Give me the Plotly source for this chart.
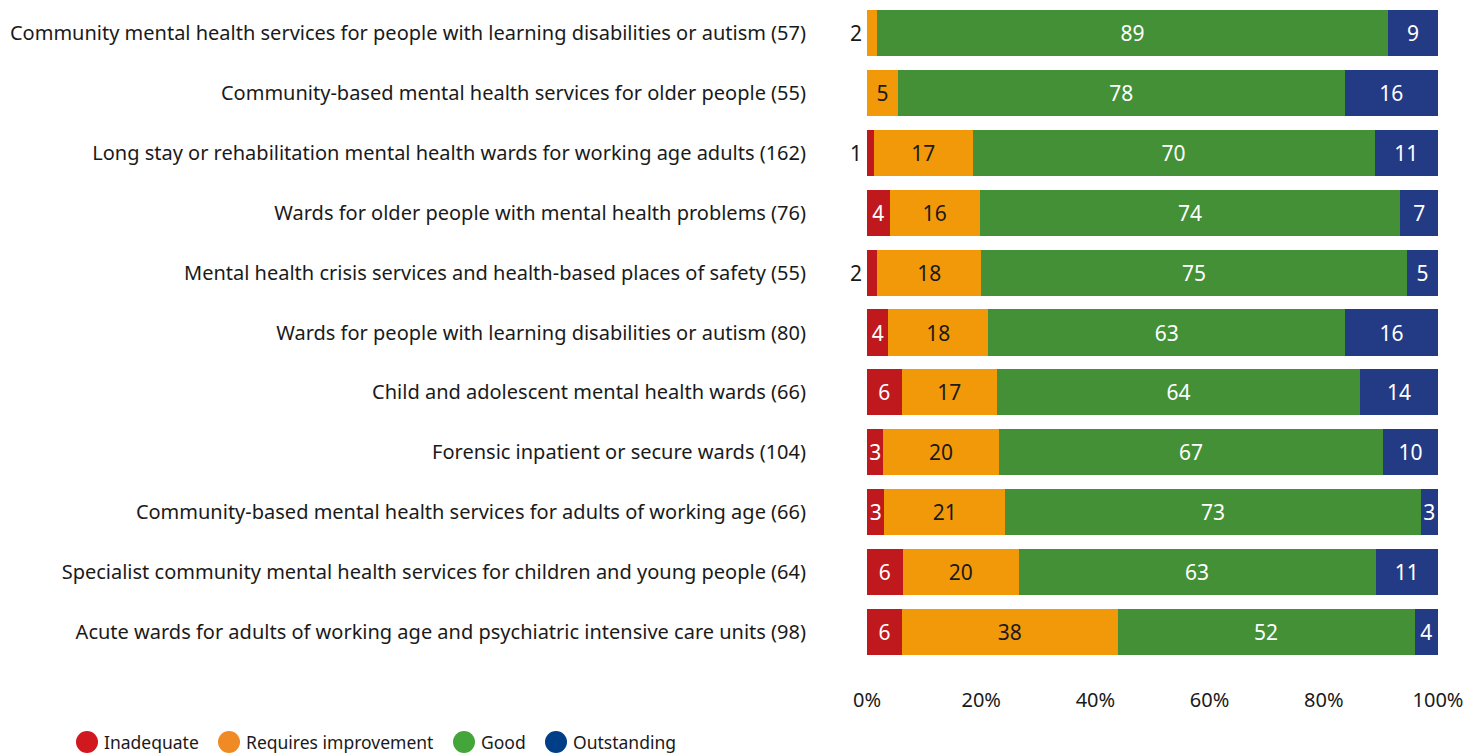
import plotly.graph_objects as go

categories = [
    "Community mental health services for people with learning disabilities or autism (57)",
    "Community-based mental health services for older people (55)",
    "Long stay or rehabilitation mental health wards for working age adults (162)",
    "Wards for older people with mental health problems (76)",
    "Mental health crisis services and health-based places of safety (55)",
    "Wards for people with learning disabilities or autism (80)",
    "Child and adolescent mental health wards (66)",
    "Forensic inpatient or secure wards (104)",
    "Community-based mental health services for adults of working age (66)",
    "Specialist community mental health services for children and young people (64)",
    "Acute wards for adults of working age and psychiatric intensive care units (98)",
]
# rounded labels shown on the bars
inadequate = [0, 0, 1, 4, 2, 4, 6, 3, 3, 6, 6]
requires_improvement = [2, 5, 17, 16, 18, 18, 17, 20, 21, 20, 38]
good = [89, 78, 70, 74, 75, 63, 64, 67, 73, 63, 52]
outstanding = [9, 16, 11, 7, 5, 16, 14, 10, 3, 11, 4]

# unrounded shares (%)
inadequate_pct = [0, 0, 1.23, 3.95, 1.82, 3.75, 6.06, 2.88, 3.03, 6.25, 6.12]
requires_improvement_pct = [1.75, 5.45, 17.28, 15.79, 18.18, 17.5, 16.67, 20.19, 21.21, 20.31, 37.76]
good_pct = [89.47, 78.18, 70.37, 73.68, 74.55, 62.5, 63.64, 67.31, 72.73, 62.5, 52.04]
outstanding_pct = [8.77, 16.36, 11.11, 6.58, 5.45, 16.25, 13.64, 9.62, 3.03, 10.94, 4.08]

series_names = ["Inadequate", "Requires improvement", "Good", "Outstanding"]
series_labels = [inadequate, requires_improvement, good, outstanding]
series_values = [inadequate_pct, requires_improvement_pct, good_pct, outstanding_pct]
bar_colors = ["#c0191d", "#f2990a", "#439037", "#233a85"]
text_colors = ["white", "#1a1a1a", "white", "white"]
legend_colors = ["#d0181e", "#f08a24", "#44a53a", "#003f87"]

FONT = "Noto Sans"
W, H = 1469, 753
ML, MR, MT, MB = 867, 31, 3, 91
PW, PH = W - ML - MR, H - MT - MB

fig = go.Figure()
SMALL = 2
for name, vals, labs, col, tcol in zip(series_names, series_values, series_labels,
                                      bar_colors, text_colors):
    texts = [str(v) if v > SMALL else "" for v in labs]
    fig.add_trace(go.Bar(
        y=categories, x=vals, orientation="h", name=name,
        marker=dict(color=col, line=dict(width=0)),
        text=texts, textposition="inside", insidetextanchor="middle",
        textangle=0, textfont=dict(color=tcol, size=21, family=FONT),
        showlegend=False, hoverinfo="skip",
    ))

# small values drawn just left of the bar
for i, cat in enumerate(categories):
    for labs in series_labels:
        v = labs[i]
        if 0 < v <= SMALL:
            fig.add_annotation(x=0, y=cat, text=str(v), showarrow=False,
                               xanchor="right", xshift=-3,
                               font=dict(size=21, color="#1a1a1a", family=FONT))
            break

# legend (circles + labels) below the chart
legend_px = [87, 229, 464, 556]
legend_py = 742
for name, col, px in zip(series_names, legend_colors, legend_px):
    xp = (px - ML) / PW
    yp = (H - MB - legend_py) / PH
    fig.add_shape(type="circle", xref="paper", yref="paper",
                  xsizemode="pixel", ysizemode="pixel",
                  xanchor=xp, yanchor=yp, x0=-11, x1=11, y0=-11, y1=11,
                  fillcolor=col, line=dict(width=0))
    fig.add_annotation(xref="paper", yref="paper", x=xp, y=yp, xshift=15,
                       xanchor="left", yanchor="middle", text=name,
                       showarrow=False,
                       font=dict(size=17.5, family=FONT, color="#1a1a1a"))

fig.update_layout(
    barmode="stack", bargap=0.23,
    width=W, height=H,
    margin=dict(l=ML, r=MR, t=MT, b=MB),
    plot_bgcolor="white", paper_bgcolor="white",
    font=dict(family=FONT, color="#1a1a1a"),
    uniformtext=dict(minsize=21, mode="show"),
    showlegend=False,
    xaxis=dict(range=[0, 100], tickvals=[0, 20, 40, 60, 80, 100],
               ticktext=["0%", "20%", "40%", "60%", "80%", "100%"],
               showgrid=False, zeroline=False, showline=False, ticks="",
               tickfont=dict(size=20, family=FONT, color="#1a1a1a"),
               ticklabelstandoff=24, fixedrange=True, automargin=False),
    yaxis=dict(autorange="reversed", showgrid=False, zeroline=False, ticks="",
               tickfont=dict(size=20, family=FONT, color="#1a1a1a"),
               ticklabelstandoff=60, automargin=False),
)

fig.write_html("out.html", config={"displayModeBar": False},
               post_script="document.body.style.margin='0';")
